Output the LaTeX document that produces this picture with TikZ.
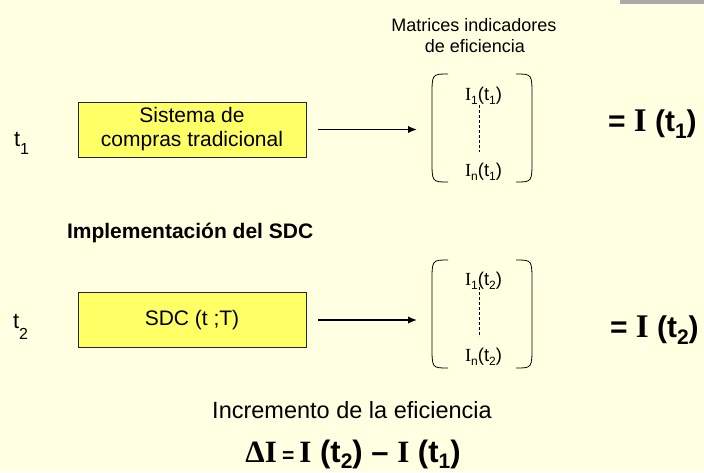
\documentclass[tikz,border=0pt]{standalone}
\usepackage{fontspec}
\setmainfont{Liberation Sans}
\newfontfamily\tms{Liberation Serif}
\usetikzlibrary{arrows.meta,calc}
\definecolor{bg}{HTML}{FFFFE1}
\definecolor{boxy}{HTML}{FFFF66}
\definecolor{barg}{HTML}{A9A9A9}
\newcommand{\fsz}[1]{\fontsize{#1}{#1}\selectfont}
\newcommand{\dn}[3]{\raisebox{-#1pt}{\fsz{#2}#3}}
\begin{document}
\begin{tikzpicture}[x=1pt,y=-1pt,
  every node/.style={inner sep=0pt, outer sep=0pt},
  sysbox/.style={draw=black!85, line width=0.8pt, fill=boxy, minimum width=228pt, minimum height=55pt, font=\fontsize{21}{24}\selectfont, align=center},
  arr/.style={line width=1.5pt, -{Latex[length=9pt,width=7.5pt]}},
  matbox/.style={minimum width=100pt, minimum height=108pt},
  paren/.style={line width=0.8pt},
  entry/.style={anchor=base west, font=\fsz{18.5}},
  eqn/.style={anchor=base west, font=\fsz{30}\bfseries},
  tlab/.style={anchor=base west, font=\fsz{22}},
  dots/.style={line width=1pt, dash pattern=on 3pt off 2pt}
]
\fill[bg] (0,0) rectangle (704,472);
\fill[barg] (620,0) rectangle (704,4);

% titles
\node[anchor=base, font=\fsz{18}, align=center] (mtit) at (474,31) {Matrices indicadores};
\node[anchor=base, font=\fsz{18}] (mtit2) at (475,52) {de eficiencia};

% row 1
\node[tlab] (t1) at (14,146) {t\dn{8}{16}{1}};
\node[sysbox] (b1) at (192,129.5) {Sistema de\\compras tradicional};
\node[matbox] (m1) at (482,128) {};
\node[entry] (e11) at (465,100) {{\tms I}\dn{4}{12}{1}(t\dn{4}{12}{1})};
\node[entry] (e1n) at (465,176) {{\tms I}\dn{4}{12}{n}(t\dn{4}{12}{1})};
\node[eqn] (r1) at (608,131) {= {\tms\fsz{33}I} (t\dn{7}{21}{1})};
\draw[arr] ([xshift=12pt]b1.east) -- ([xshift=-15pt]b1.east -| m1.west);

% row 2
\node[tlab] (t2) at (13,328) {t\dn{11}{16}{2}};
\node[sysbox] (b2) at (192,320) {SDC (t ;T)};
\node[matbox] (m2) at (482,314) {};
\node[entry] (e21) at (465,285) {{\tms I}\dn{4}{12}{1}(t\dn{4}{12}{2})};
\node[entry] (e2n) at (465,361) {{\tms I}\dn{4}{12}{n}(t\dn{4}{12}{2})};
\node[eqn] (r2) at (610,337) {= {\tms\fsz{33}I} (t\dn{7}{21}{2})};
\draw[arr] ([xshift=12pt]b2.east) -- ([xshift=-15pt]b2.east -| m2.west);

% parentheses
\foreach \m in {m1,m2}{
  \draw[paren] ($(\m.north west)+(16,0)$) .. controls (\m.north west) .. ($(\m.north west)+(0,22)$)
     -- ($(\m.south west)+(0,-22)$) .. controls (\m.south west) .. ($(\m.south west)+(16,0)$);
  \draw[paren] ($(\m.north east)+(-16,0)$) .. controls (\m.north east) .. ($(\m.north east)+(0,22)$)
     -- ($(\m.south east)+(0,-22)$) .. controls (\m.south east) .. ($(\m.south east)+(-16,0)$);
}
% vertical dashed lines
\draw[dots] ($(e11.base west)+(14,5)$) -- ($(e1n.base west)+(14,-24)$);
\draw[dots] ($(e21.base west)+(14,2)$) -- ($(e2n.base west)+(14,-24)$);

% middle label
\node[anchor=base west, font=\fsz{21}\bfseries] (impl) at (67,238) {Implementación del SDC};

% bottom
\node[anchor=base, font=\fsz{23.5}] (inc) at (352,418) {Incremento de la eficiencia};
\node[anchor=base, font=\fsz{31}\bfseries] (delta) at (353,462)
  {{\tms ΔI}\,{\fsz{21}=}\,{\tms I} (t\dn{6}{21}{2}) – {\tms I} (t\dn{6}{21}{1})};
\end{tikzpicture}
\end{document}
